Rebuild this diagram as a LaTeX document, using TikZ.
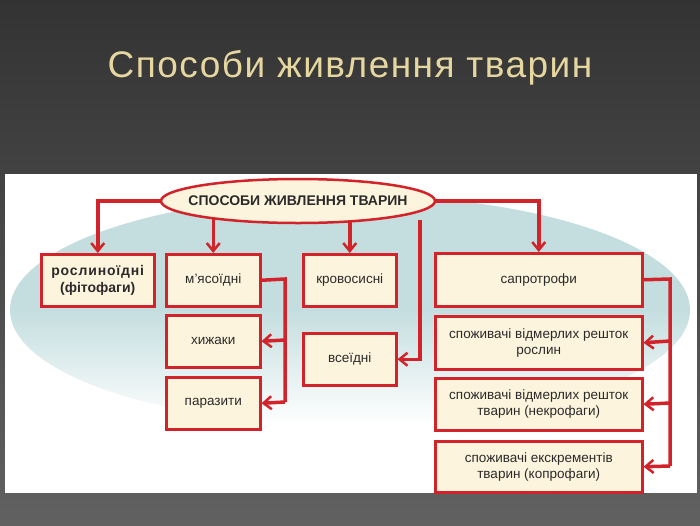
\documentclass[tikz,border=0pt]{standalone}
\usepackage{fontspec}
\setmainfont{Liberation Sans}
\usetikzlibrary{arrows.meta,shapes.geometric}
\definecolor{rd}{HTML}{D2232A}
\definecolor{cr}{HTML}{FCF4DC}
\definecolor{tl}{HTML}{C4DEDF}
\definecolor{gold}{HTML}{E6D6A0}
\definecolor{tx}{HTML}{2A2A2A}
\begin{document}
\begin{tikzpicture}[x=1pt,y=-1pt,
  box/.style={draw=rd,fill=cr,line width=2.5pt,anchor=north west,align=center,text=tx,font=\fontsize{13.5}{16}\selectfont,inner sep=0pt},
  con/.style={draw=rd,line width=3.5pt,line join=miter,-{Straight Barb[length=8pt,width=13pt,line width=2.5pt]}},
  ln/.style={draw=rd,line width=3.5pt,line join=miter}]
\useasboundingbox (0,0) rectangle (700,525);
\shade[top color=black!80,bottom color=black!62] (0,0) rectangle (700,525);
\node[font=\fontsize{37}{42}\selectfont,text=gold] (ttl) at (350,68) {\addfontfeature{LetterSpace=4}Способи живлення тварин};
\fill[white] (5,174) rectangle (697,493);
\shade[top color=tl,bottom color=white,middle color=tl] (350,310) ellipse [x radius=340,y radius=115];
\fill[white] (5,430) rectangle (697,493);
\coordinate (mw) at (162,201);
\coordinate (me) at (434,201);
\coordinate (ms) at (420,220);
\draw[draw=rd,fill=cr,line width=2.5pt] (298,201) ellipse [x radius=137,y radius=22];
\node[text=tx,font=\bfseries\fontsize{14}{16}\selectfont] (m) at (298,201) {СПОСОБИ ЖИВЛЕННЯ ТВАРИН};
\node[box,minimum width=113pt,minimum height=52pt,font=\bfseries\fontsize{14}{16.5}\selectfont] (r) at (40,253) {\addfontfeature{LetterSpace=6}рослиноїдні\\(фітофаги)};
\node[box,minimum width=94pt,minimum height=52pt] (mj) at (165,253) {м’ясоїдні};
\node[box,minimum width=94pt,minimum height=52pt] (h) at (165,314) {хижаки};
\node[box,minimum width=94pt,minimum height=52pt] (p) at (165,376) {паразити};
\node[box,minimum width=93pt,minimum height=52pt] (k) at (302,253) {кровосисні};
\node[box,minimum width=93pt,minimum height=52pt] (v) at (302,332) {всеїдні};
\node[box,minimum width=207pt,minimum height=53pt] (s) at (434,252) {сапротрофи};
\node[box,minimum width=207pt,minimum height=53pt] (s1) at (434,315) {споживачі відмерлих решток\\рослин};
\node[box,minimum width=207pt,minimum height=52pt] (s2) at (434,377) {споживачі відмерлих решток\\тварин (некрофаги)};
\node[box,minimum width=207pt,minimum height=51pt] (s3) at (434,440) {споживачі екскрементів\\тварин (копрофаги)};
\draw[con] (mw) -| (r.north);
\draw[con] (mj.north |- 219,219) -- (mj.north);
\draw[con] (k.north |- 222,222) -- (k.north);
\draw[con] (me) -| (s.north);
\draw[con] (ms) |- (v.east);
\draw[ln] (mj.east) -- (285,279) -- (285,402);
\draw[con] (285,340) -- (h.east);
\draw[con] (285,402) -- (p.east);
\draw[ln] (s.east) -- (670,279) -- (670,466);
\draw[con] (670,341) -- (s1.east);
\draw[con] (670,403) -- (s2.east);
\draw[con] (670,466) -- (s3.east);
\end{tikzpicture}
\end{document}
